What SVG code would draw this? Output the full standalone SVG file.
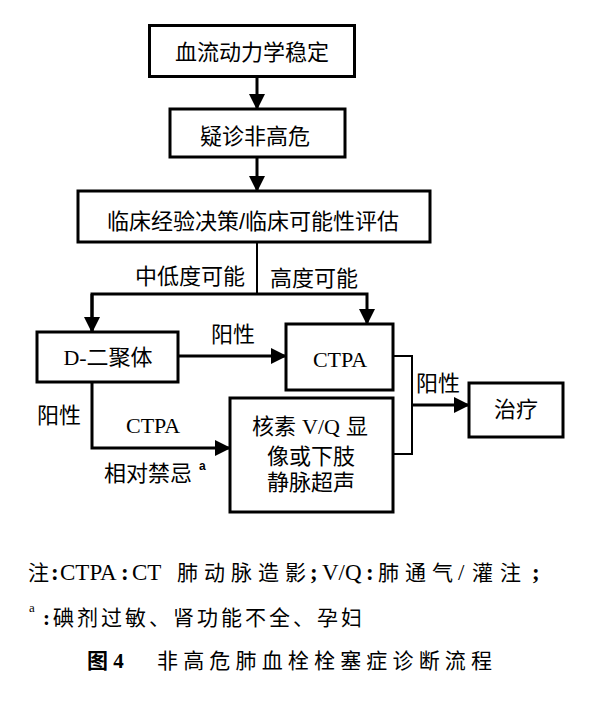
<svg xmlns="http://www.w3.org/2000/svg" width="596" height="701" viewBox="0 0 596 701">
<defs>
<style>
.box{fill:#fff;stroke:#000;stroke-width:3}
.ln{fill:none;stroke:#000;stroke-width:3}
.thin{fill:none;stroke:#000;stroke-width:2}
.t{font-family:"Liberation Sans","Noto Sans CJK SC",sans-serif;font-size:22px;fill:#000}
.s{font-family:"Liberation Serif","Noto Sans CJK SC",serif;font-size:22px;fill:#000}
.c{font-family:"Liberation Serif","Noto Sans CJK SC",serif;font-size:21px;fill:#000}
.l{font-size:23px}
.b{font-weight:bold}
</style>
<marker id="ah" markerUnits="userSpaceOnUse" markerWidth="16" markerHeight="16" refX="15" refY="8" orient="auto">
<path d="M0,0 L16,8 L0,16 z" fill="#000"/>
</marker>
</defs>
<rect width="596" height="701" fill="#fff"/>
<g id="connectors">
<line class="ln" x1="257" y1="77" x2="257" y2="109" marker-end="url(#ah)"/>
<line class="ln" x1="257" y1="157" x2="257" y2="191" marker-end="url(#ah)"/>
<line class="thin" x1="257" y1="242" x2="257" y2="294"/>
<polyline class="ln" points="92,332 92,294 367,294 367,324" marker-end="url(#ah)"/>
<line class="ln" x1="92" y1="294" x2="92" y2="332" marker-end="url(#ah)"/>
<line class="ln" x1="178" y1="356" x2="286" y2="356" marker-end="url(#ah)"/>
<polyline class="ln" points="92,382 92,448 230,448" marker-end="url(#ah)"/>
<polyline class="thin" points="393,356 412,356 412,454 393,454"/>
<line class="ln" x1="412" y1="405" x2="469" y2="405" marker-end="url(#ah)"/>
<text class="t" x="245" y="284" text-anchor="end">中低度可能</text>
<text class="t" x="270" y="286">高度可能</text>
<text class="t" x="211" y="342">阳性</text>
<text class="t" x="37" y="423">阳性</text>
<text class="s" x="126" y="433">CTPA</text>
<text class="t" x="104" y="481">相对禁忌</text>
<text class="t b" x="199" y="470" style="font-size:12px">a</text>
<text class="t" x="416" y="391">阳性</text>
</g>
<g id="n1"><rect class="box" x="149.5" y="25.5" width="205" height="51"/><text class="t" x="252" y="60" text-anchor="middle">血流动力学稳定</text></g>
<g id="n2"><rect class="box" x="170" y="109" width="175" height="48"/><text class="t" x="255" y="144" text-anchor="middle">疑诊非高危</text></g>
<g id="n3"><rect class="box" x="78" y="191" width="352" height="51"/><text class="t" x="253" y="229" text-anchor="middle">临床经验决策/临床可能性评估</text></g>
<g id="n4"><rect class="box" x="37" y="332" width="141" height="50"/><text class="t" x="108" y="365" text-anchor="middle"><tspan class="s">D-</tspan>二聚体</text></g>
<g id="n5"><rect class="box" x="286" y="324" width="107" height="66"/><text class="s" x="340" y="367" text-anchor="middle">CTPA</text></g>
<g id="n6"><rect class="box" x="230" y="398" width="163" height="114"/>
<text class="t" x="310" y="434" text-anchor="middle">核素 <tspan class="s">V/Q</tspan> 显</text>
<text class="t" x="311" y="464" text-anchor="middle">像或下肢</text>
<text class="t" x="311" y="490" text-anchor="middle">静脉超声</text></g>
<g id="n7"><rect class="box" x="469" y="383" width="94" height="54"/><text class="t" x="516" y="417" text-anchor="middle">治疗</text></g>
<g id="caption">
<text class="c" y="580"><tspan x="28">注</tspan><tspan class="l b" x="51">:</tspan><tspan class="l" x="60">CTPA</tspan><tspan class="l b" x="121">:</tspan><tspan class="l" x="132">CT </tspan><tspan x="177 204 231 258 285">肺动脉造影</tspan><tspan class="l b" x="310">;</tspan><tspan class="l" x="322">V/Q</tspan><tspan class="l b" x="366">:</tspan><tspan x="378 405 432">肺通气</tspan><tspan class="l" x="458">/</tspan><tspan x="472 500">灌注</tspan><tspan class="l b" x="532">;</tspan></text>
<text class="c" x="29" y="612" style="font-size:13px">a</text>
<text class="c" x="43" y="625" textLength="319" lengthAdjust="spacing"><tspan class="b">:</tspan>碘剂过敏、肾功能不全、孕妇</text>
<text class="c b" x="87" y="668">图 4</text>
<text class="c" x="157" y="668" textLength="335" lengthAdjust="spacing">非高危肺血栓栓塞症诊断流程</text>
</g>
</svg>
